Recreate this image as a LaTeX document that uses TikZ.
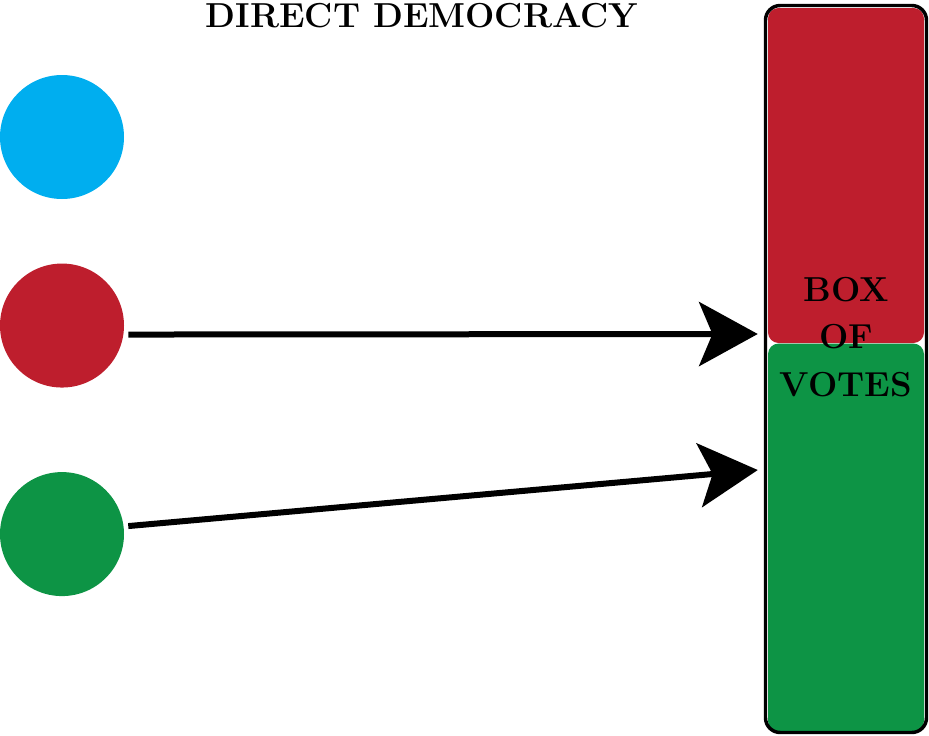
\documentclass[tikz,border=0pt]{standalone}
\usepackage{tikz}
\usetikzlibrary{positioning,arrows.meta}
\definecolor{voteblue}{RGB}{0,174,239}
\definecolor{votered}{RGB}{190,30,45}
\definecolor{votegreen}{RGB}{13,148,69}

\begin{document}
\begin{tikzpicture}
		[
		x = 0.75pt, y = -0.75pt,
		voter/.style = {circle, minimum size = 93pt, inner sep = 0pt},
		half/.style  = {rounded corners = 8pt, minimum width = 117pt, inner sep = 0pt},
		vote/.style  = {-{Stealth[length = 44pt, width = 48pt, inset = 10pt]}, line width = 4.5pt}
		]
		\useasboundingbox (0,0) rectangle (929,736);
		\node (title) at (422,27) [anchor = base, font = \fontsize{26}{30}\selectfont\bfseries] {DIRECT DEMOCRACY};
		\node [voter, fill = voteblue] (blue) at (62,137) {};
		\node [voter, fill = votered, below = 48pt of blue] (red) {};
		\node [voter, fill = votegreen, below = 63pt of red] (green) {};
		\node [half, fill = votered, minimum height = 251.25pt] (upper) at (846,175.5) {};
		\node [half, fill = votegreen, minimum height = 291pt, below = 0pt of upper] (lower) {};
		\node [draw, line width = 2.6pt, rounded corners = 11pt,
		minimum width = 120.75pt, minimum height = 545.25pt] (box) at (846,369) {};
		\node (votes) at (846,337) [align = center, inner sep = 0pt,
		font = \fontsize{26}{35.6}\selectfont\bfseries] {BOX\\OF\\VOTES};
		\path
		([shift = {(4,9)}]red.east) edge [vote] ([shift = {(-6,-35)}]box.west)
		([shift = {(4,-8)}]green.east) edge [vote] ([shift = {(-6,101)}]box.west);
\end{tikzpicture}
\end{document}
